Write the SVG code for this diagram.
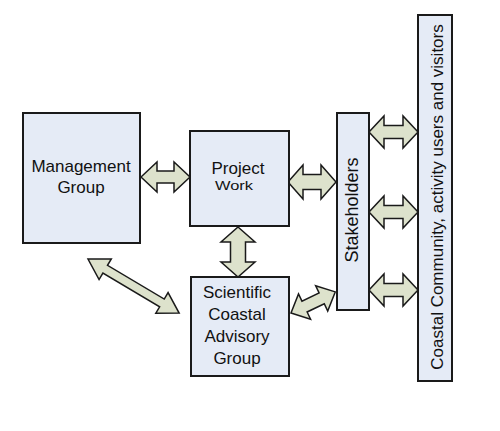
<svg xmlns="http://www.w3.org/2000/svg" width="500" height="431" viewBox="0 0 500 431">
<style>
.box{fill:#e5ebf6;stroke:#1a1a1a;stroke-width:2}
.arr{fill:#dde2cc;stroke:#1a1a1a;stroke-width:1.5;stroke-linejoin:miter}
text{font-family:"Liberation Sans",Arial,sans-serif;fill:#111;text-anchor:middle}
</style>
<rect width="500" height="431" fill="#ffffff"/>
<g id="connectors">
<polygon class="arr" transform="translate(141,177)" points="0,0 16,-15 16,-6 33,-6 33,-15 49,0 33,15 33,6 16,6 16,15"/>
<polygon class="arr" transform="translate(288,182)" points="0,0 15,-17 15,-7.5 33,-7.5 33,-17 48,0 33,17 33,7.5 15,7.5 15,17"/>
<polygon class="arr" transform="translate(369,132)" points="0,0 15,-16 15,-6.5 34,-6.5 34,-16 49,0 34,16 34,6.5 15,6.5 15,16"/>
<polygon class="arr" transform="translate(369,212)" points="0,0 15,-16 15,-6.5 34,-6.5 34,-16 49,0 34,16 34,6.5 15,6.5 15,16"/>
<polygon class="arr" transform="translate(369,290)" points="0,0 15,-16 15,-6.5 34,-6.5 34,-16 49,0 34,16 34,6.5 15,6.5 15,16"/>
<polygon class="arr" transform="translate(238,227) rotate(90)" points="0,0 15,-17 15,-7.5 35,-7.5 35,-17 50,0 35,17 35,7.5 15,7.5 15,17"/>
<polygon class="arr" transform="translate(88,259) rotate(30.7)" points="0,0 20,-12 20,-4.5 86,-4.5 86,-12 106,0 86,12 86,4.5 20,4.5 20,12"/>
<polygon class="arr" transform="translate(291,313) rotate(-25.5)" points="0,0 15,-14 15,-6 34,-6 34,-14 49,0 34,14 34,6 15,6 15,14"/>
</g>
<g id="management">
<rect class="box" x="23" y="113" width="117" height="130"/>
<text x="81" y="172" font-size="17">Management</text>
<text x="81" y="193" font-size="17">Group</text>
</g>
<g id="project">
<rect class="box" x="190" y="131" width="99" height="95"/>
<text x="238" y="174" font-size="17">Project</text>
<text x="234" y="190" font-size="13" textLength="38" lengthAdjust="spacingAndGlyphs">Work</text>
</g>
<g id="scientific">
<rect class="box" x="191" y="277" width="98" height="99"/>
<text x="237" y="298" font-size="17">Scientific</text>
<text x="237" y="320" font-size="17">Coastal</text>
<text x="237" y="342" font-size="17">Advisory</text>
<text x="237" y="364" font-size="17">Group</text>
</g>
<g id="stakeholders">
<rect class="box" x="337" y="113" width="32" height="197"/>
<text transform="translate(358,210) rotate(-90)" x="0" y="0" font-size="18">Stakeholders</text>
</g>
<g id="community">
<rect class="box" x="418" y="15" width="34" height="366"/>
<text transform="translate(443,197) rotate(-90)" x="0" y="0" font-size="17">Coastal Community, activity users and visitors</text>
</g>
</svg>
